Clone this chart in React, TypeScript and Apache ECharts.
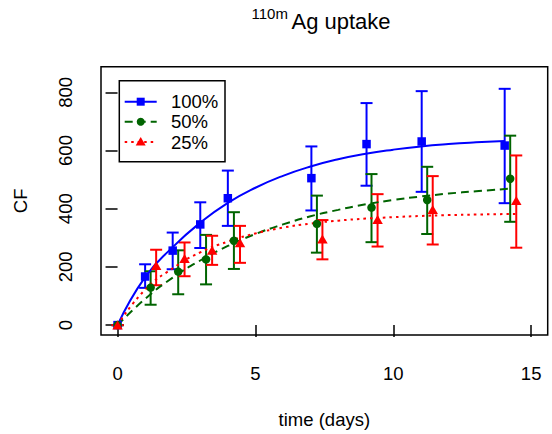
import React, { useEffect, useRef } from "react";
import * as echarts from "echarts";

// ---- tick labels ----
const xTicks = [0, 5, 10, 15];
const yTicks = [0, 200, 400, 600, 800];

// ---- 100% (blue squares) ----
const days100 = [0, 1, 2, 3, 4, 7.03, 9.03, 11.03, 14.04];
const cf100 = [0, 167, 256, 346, 436, 505, 622, 631, 617];
const lo100 = [0, 128, 192, 265, 341, 394, 479, 458, 419];
const hi100 = [0, 209, 318, 422, 531, 614, 763, 804, 812];
const fitDays100 = [0, 1, 2, 3, 4, 5, 6, 7, 8, 9, 10, 11, 12, 13, 14.04];
const fitCf100 = [0, 165, 268, 352, 420, 472, 513, 545, 570, 589, 603, 614, 622, 628, 633];

// ---- 50% (green circles) ----
const days50 = [0, 1.2, 2.2, 3.21, 4.22, 7.23, 9.21, 11.23, 14.24];
const cf50 = [0, 129, 184, 226, 290, 348, 404, 430, 503];
const lo50 = [0, 70, 106, 140, 193, 249, 285, 313, 355];
const hi50 = [0, 185, 257, 310, 388, 445, 519, 544, 651];
const fitDays50 = [0, 1, 2, 3, 4, 5, 6, 7, 8, 9, 10, 11, 12, 13, 14.24];
const fitCf50 = [0, 90, 163, 222, 272, 313, 346, 374, 396, 415, 430, 442, 452, 460, 469];

// ---- 25% (red triangles) ----
const days25 = [0, 1.4, 2.43, 3.43, 4.44, 7.43, 9.43, 11.43, 14.46];
const cf25 = [0, 205, 229, 257, 283, 296, 363, 397, 428];
const lo25 = [0, 137, 168, 207, 214, 226, 270, 277, 266];
const hi25 = [0, 259, 284, 307, 341, 361, 450, 512, 583];
const fitDays25 = [0, 1, 2, 3, 4, 5, 6, 7, 8, 9, 10, 11, 12, 13, 14.46];
const fitCf25 = [0, 122, 195, 250, 287, 315, 335, 349, 359, 366, 371, 375, 378, 380, 382];

const legendNames = ["100%", "50%", "25%"];

const BLUE = "#0000FF";
const GREEN = "#006400";
const RED = "#FF0000";
const FONT = "'Liberation Sans', Arial, Helvetica, sans-serif";

const pairs = (xs: number[], ys: number[]) => xs.map((x, i) => [x, ys[i]]);
const triples = (xs: number[], lo: number[], hi: number[]) => xs.map((x, i) => [x, lo[i], hi[i]]);

function errorBars(name: string, data: number[][], color: string) {
  return {
    type: "custom",
    name,
    data,
    encode: { x: 0, y: [1, 2] },
    silent: true,
    renderItem: (_params: any, api: any) => {
      const x = api.value(0);
      const lo = api.value(1);
      const hi = api.value(2);
      const t = api.coord([x, hi]);
      const b = api.coord([x, lo]);
      const hw = 6;
      const style = { stroke: color, lineWidth: 2 };
      return {
        type: "group",
        children: [
          { type: "line", shape: { x1: t[0], y1: t[1], x2: b[0], y2: b[1] }, style },
          { type: "line", shape: { x1: t[0] - hw, y1: t[1], x2: t[0] + hw, y2: t[1] }, style },
          { type: "line", shape: { x1: b[0] - hw, y1: b[1], x2: b[0] + hw, y2: b[1] }, style },
        ],
      };
    },
  };
}

function points(name: string, data: number[][], color: string, symbol: string, size: any) {
  return {
    type: "scatter",
    name,
    data,
    symbol,
    symbolSize: size,
    itemStyle: { color, opacity: 1 },
    z: 3,
  };
}

function fit(name: string, data: number[][], color: string, dash: any) {
  return {
    type: "line",
    name,
    data,
    smooth: 0.5,
    showSymbol: false,
    symbol: "none",
    lineStyle: { color, width: 2, type: dash },
    z: 2,
  };
}

export default function App() {
  const ref = useRef<HTMLDivElement>(null);

  useEffect(() => {
    document.body.style.margin = "0";
    if (!ref.current) return;
    const chart = echarts.init(ref.current, undefined, { renderer: "svg" });

    const rows = [101.7, 121.7, 142];
    const legendColors = [BLUE, GREEN, RED];
    const legendDash: any[] = [null, [8, 5], [2.5, 4]];
    const legendGraphics: any[] = [
      {
        type: "rect",
        shape: { x: 119.3, y: 80.7, width: 105.7, height: 81 },
        style: { fill: "#fff", stroke: "#000", lineWidth: 1.5 },
        z: 10,
      },
    ];
    rows.forEach((y, i) => {
      legendGraphics.push({
        type: "line",
        shape: { x1: 124.7, y1: y, x2: 156.7, y2: y },
        style: { stroke: legendColors[i], lineWidth: 2, lineDash: legendDash[i] || undefined },
        z: 11,
      });
      legendGraphics.push({
        type: "text",
        x: 171,
        y,
        style: {
          text: legendNames[i],
          font: `18.5px ${FONT}`,
          fill: "#000",
          textAlign: "left",
          textVerticalAlign: "middle",
        },
        z: 11,
      });
    });
    legendGraphics.push({
      type: "rect",
      shape: { x: 140.7 - 4, y: rows[0] - 4, width: 8, height: 8 },
      style: { fill: BLUE },
      z: 12,
    });
    legendGraphics.push({
      type: "circle",
      shape: { cx: 140.7, cy: rows[1], r: 4 },
      style: { fill: GREEN },
      z: 12,
    });
    legendGraphics.push({
      type: "polygon",
      shape: {
        points: [
          [140.7, rows[2] - 5],
          [145.7, rows[2] + 3.5],
          [135.7, rows[2] + 3.5],
        ],
      },
      style: { fill: RED },
      z: 12,
    });

    const option: any = {
      animation: false,
      backgroundColor: "#fff",
      textStyle: { fontFamily: FONT },
      graphic: [
        {
          type: "text",
          x: 251.5,
          y: 13,
          style: {
            text: "110m",
            font: `15px ${FONT}`,
            fill: "#000",
            textAlign: "left",
            textVerticalAlign: "middle",
          },
        },
        {
          type: "text",
          x: 291.5,
          y: 21.5,
          style: {
            text: "Ag uptake",
            font: `22px ${FONT}`,
            fill: "#000",
            textAlign: "left",
            textVerticalAlign: "middle",
          },
        },
        ...legendGraphics,
      ],
      grid: {
        show: true,
        left: 101,
        top: 66.7,
        width: 446.7,
        height: 275,
        borderColor: "#000",
        borderWidth: 1.5,
        backgroundColor: "transparent",
        containLabel: false,
      },
      xAxis: {
        type: "value",
        min: -0.6,
        max: 15.6,
        name: "time (days)",
        nameLocation: "middle",
        nameGap: 75,
        nameTextStyle: { fontSize: 18.5, color: "#000", fontFamily: FONT },
        axisLine: { show: false },
        splitLine: { show: false },
        axisTick: {
          show: true,
          inside: false,
          length: 12,
          customValues: xTicks,
          lineStyle: { color: "#000", width: 1.5 },
        },
        axisLabel: {
          customValues: xTicks,
          margin: 29,
          fontSize: 18.5,
          color: "#000",
          fontFamily: FONT,
        },
      },
      yAxis: {
        type: "value",
        min: -34,
        max: 888,
        name: "CF",
        nameLocation: "middle",
        nameGap: 71,
        nameRotate: 90,
        nameTextStyle: { fontSize: 18.5, color: "#000", fontFamily: FONT },
        axisLine: { show: false },
        splitLine: { show: false },
        axisTick: {
          show: true,
          inside: false,
          length: 12,
          customValues: yTicks,
          lineStyle: { color: "#000", width: 1.5 },
        },
        axisLabel: {
          customValues: yTicks,
          rotate: 90,
          margin: 26,
          fontSize: 18.5,
          color: "#000",
          fontFamily: FONT,
        },
      },
      series: [
        errorBars("100% error", triples(days100, lo100, hi100), BLUE),
        points("100%", pairs(days100, cf100), BLUE, "rect", 8.5),
        fit("100% fit", pairs(fitDays100, fitCf100), BLUE, "solid"),
        errorBars("50% error", triples(days50, lo50, hi50), GREEN),
        points("50%", pairs(days50, cf50), GREEN, "circle", 8.5),
        fit("50% fit", pairs(fitDays50, fitCf50), GREEN, [8, 5]),
        errorBars("25% error", triples(days25, lo25, hi25), RED),
        points("25%", pairs(days25, cf25), RED, "triangle", [10.5, 9]),
        fit("25% fit", pairs(fitDays25, fitCf25), RED, [2.5, 4]),
      ],
    };

    chart.setOption(option);
    return () => chart.dispose();
  }, []);

  return <div ref={ref} style={{ width: 552, height: 434 }} />;
}
